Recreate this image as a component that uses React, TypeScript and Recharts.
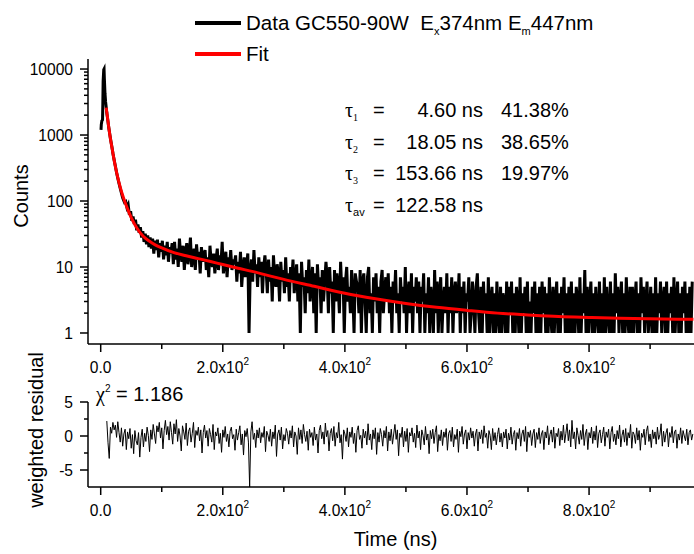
import React from 'react';
import { LineChart, Line, XAxis, YAxis, Legend } from 'recharts';

const FONT = '"Liberation Sans", Arial, sans-serif';
const SERIF = '"Liberation Serif", "Times New Roman", serif';

// decay curve, rising edge and fast part (ns, counts)
const peakTimes = [0.5, 1, 2, 3, 3.5, 4, 5, 5.5, 6, 7, 8, 9, 10, 11, 12, 13, 14, 15, 16, 17, 18, 19, 20, 22, 24, 26, 28, 30, 32, 34, 36, 38, 39];
const peakCounts = [1200, 1450, 1650, 1700, 3000, 6500, 9800, 10000, 7200, 4300, 3200, 2650, 2150, 1850, 1580, 1330, 1160, 1010, 880, 780, 690, 610, 530, 420, 340, 270, 222, 185, 155, 132, 112, 100, 95];

// 41 .. 119 ns, 2 ns channels
const midStart = 41;
const midStep = 2;
const midCounts = [98, 80, 88, 62, 70, 50, 58, 45, 52, 36, 44, 33, 40, 28, 35, 24, 32, 22, 30, 20, 28, 19, 27, 16, 25, 18, 26, 14, 23, 17, 25, 13, 21, 15, 24, 12, 20, 16, 23, 11];

// 121 .. 969 ns, 2 ns channels (one row = 50 ns)
const tailStart = 121;
const tailStep = 2;
const tailCounts = [
  24, 13, 19, 10, 27, 15, 12, 21, 9, 17, 23, 11, 16, 28, 10, 14, 19, 9, 22, 13, 17, 8, 20, 12, 15,
  18, 9, 14, 7, 21, 12, 10, 16, 8, 13, 19, 9, 15, 11, 24, 8, 12, 17, 7, 14, 10, 18, 9, 13, 11,
  15, 6, 12, 8, 17, 5, 10, 14, 7, 11, 16, 1, 9, 13, 6, 18, 8, 11, 5, 14, 7, 12, 4, 10, 15,
  9, 4, 13, 6, 10, 3, 15, 7, 5, 11, 8, 3, 12, 6, 9, 4, 14, 5, 8, 3, 10, 6, 13, 4, 7,
  11, 3, 8, 1, 12, 5, 7, 2, 9, 4, 13, 3, 6, 10, 2, 8, 1, 11, 5, 7, 2, 9, 3, 6, 12,
  7, 2, 10, 4, 6, 1, 9, 3, 8, 5, 2, 12, 4, 7, 1, 6, 10, 3, 5, 2, 9, 4, 1, 8, 6,
  5, 2, 9, 1, 6, 8, 3, 1, 7, 10, 2, 4, 1, 7, 3, 8, 2, 5, 1, 6, 9, 2, 4, 7, 3,
  8, 2, 5, 1, 6, 3, 9, 2, 4, 1, 7, 3, 5, 2, 10, 1, 4, 6, 2, 8, 1, 5, 3, 7, 2,
  6, 1, 5, 3, 8, 1, 4, 2, 7, 1, 5, 3, 1, 9, 2, 6, 1, 4, 7, 1, 3, 5, 2, 8, 1,
  5, 2, 7, 1, 4, 6, 2, 3, 8, 1, 5, 2, 6, 1, 4, 3, 7, 1, 2, 6, 3, 1, 5, 8, 2,
  1, 5, 1, 6, 2, 4, 1, 7, 1, 3, 5, 1, 4, 1, 6, 2, 1, 5, 1, 4, 3, 1, 6, 1, 5,
  2, 6, 1, 4, 1, 5, 3, 1, 7, 1, 4, 2, 5, 1, 6, 1, 3, 1, 5, 2, 6, 1, 4, 1, 5,
  1, 6, 2, 5, 1, 4, 1, 7, 2, 1, 5, 1, 3, 6, 1, 4, 1, 5, 2, 7, 1, 4, 1, 5, 1,
  6, 1, 4, 1, 5, 3, 1, 7, 1, 4, 2, 9, 1, 5, 1, 3, 6, 1, 4, 1, 5, 2, 1, 6, 1,
  4, 1, 7, 1, 5, 2, 1, 6, 1, 4, 1, 8, 2, 5, 1, 3, 6, 1, 4, 1, 7, 2, 1, 5, 1,
  5, 1, 3, 6, 1, 4, 1, 7, 2, 5, 1, 3, 6, 1, 2, 5, 1, 4, 1, 7, 1, 4, 2, 6, 1,
  3, 5, 1, 6, 1, 4, 2, 5, 1, 7, 1, 3, 6, 1, 4, 1, 5, 2, 6, 1, 4, 1, 5, 1, 6,
];

// fitted curve
const fitTimes = [9, 11, 13, 15, 18, 21, 25, 30, 35, 40, 45, 50, 60, 70, 80, 90, 100, 120, 140, 160, 180, 200, 225, 250, 275, 300, 350, 400, 450, 500, 550, 600, 650, 700, 750, 800, 850, 900, 971];
const fitCounts = [2600, 1900, 1350, 1000, 680, 470, 300, 190, 130, 95, 72, 56, 38, 29, 24.5, 21.5, 19.5, 16.5, 14.8, 13.4, 12.1, 10.9, 9.6, 8.5, 7.4, 6.5, 5.1, 4.0, 3.3, 2.8, 2.45, 2.2, 2.0, 1.88, 1.78, 1.72, 1.67, 1.64, 1.61];

// weighted residuals, 10 .. 970 ns, 2 ns channels (one row = 50 ns)
const resStart = 10;
const resStep = 2;
const residuals = [
  2.2, -1.0, -3.3, 1.3, 0.4, 2.0, 0.9, 1.6, -0.2, 2.1, 0.5, -0.9, 1.2, -1.5, 0.3, 1.0, -2.0, 0.6, -0.4, 1.1, -1.8, 0.2, -2.6, 0.8, -0.7,
  -1.3, 0.5, -3.1, -0.2, 1.0, -1.6, 0.4, -0.8, 1.3, 0.1, -2.3, 0.9, -0.5, 1.7, 0.3, -1.1, 1.5, 0.6, 2.0, -0.3, 1.2, -1.9, 0.8, 2.3, 0.2,
  1.4, -0.6, 2.1, 0.5, -1.2, 1.8, 0.3, 2.4, -0.8, 1.1, 0.0, -2.2, 1.5, 0.6, -0.5, 1.9, -1.4, 0.7, 1.2, -0.9, 0.4, 2.0, -1.7, 0.8, 0.1,
  1.3, -0.7, 0.9, -2.5, 0.5, 1.6, -0.3, 0.8, -1.5, 1.1, 0.2, -0.9, 1.7, -2.0, 0.6, 0.0, 1.2, -1.1, 0.4, -2.4, 0.9, -0.2, 1.4, -0.8, 0.3,
  -1.6, 0.7, 1.3, -0.4, 0.2, -2.1, 1.0, -0.6, 0.5, 1.5, -1.3, 0.3, -2.8, 0.8, -0.1, 1.1, -0.9, -7.5, 0.6, 2.1, -0.5, 0.4, -1.7, 0.9, -0.3,
  1.2, -1.0, 0.5, -0.2, 1.4, -2.3, 0.7, 0.1, -0.8, 1.0, -1.5, 0.6, -0.4, 1.6, -3.0, 0.3, 0.9, -0.6, 1.3, -1.9, 0.2, -0.7, 1.1, 0.4, -1.2,
  0.8, -0.3, 1.5, -1.6, 0.6, 0.0, -2.7, 1.2, -0.5, 0.9, -1.1, 1.7, 0.2, -0.8, 0.7, -2.1, 1.0, -0.2, 0.5, -1.4, 1.3, -0.6, 0.3, -2.5, 0.8,
  1.6, -0.4, 0.6, -1.2, 1.9, -0.1, 0.8, -2.2, 0.4, 1.1, -0.7, 1.4, -1.5, 0.5, -0.3, 2.0, -1.0, 0.2, -3.4, 0.9, 0.3, -0.8, 1.2, -1.6, 0.6,
  -0.2, 1.3, -1.1, 0.4, -2.4, 0.8, 1.5, -0.5, 0.1, -1.8, 1.0, -0.3, 0.7, -1.3, 1.8, -0.6, 0.3, -2.0, 0.9, -0.4, 1.2, -2.7, 0.5, -0.9, 1.1,
  0.2, -1.5, 0.8, -0.3, 1.4, -2.2, 0.6, -0.7, 1.0, -1.2, 0.3, 1.7, -0.5, 0.9, -2.9, 0.4, -0.2, 1.3, -1.6, 0.7, -0.8, 1.1, -2.4, 0.5, 0.0,
  1.2, -0.9, 0.4, -1.7, 1.6, -0.3, 0.7, -2.0, 0.9, 0.1, -1.3, 1.4, -0.6, 0.3, -2.6, 0.8, -0.4, 1.0, -1.1, 0.5, 1.5, -2.3, 0.2, -0.7, 0.9,
  -1.4, 0.6, -0.2, 1.1, -2.1, 0.4, 0.8, -0.8, 1.3, -1.6, 0.2, -0.5, 1.0, -2.4, 0.7, -0.1, 1.4, -1.2, 0.3, 0.9, -1.9, 0.5, -0.6, 1.2, -0.3,
  0.7, -1.5, 0.3, 1.0, -2.2, 0.6, -0.4, 0.9, -1.1, 1.5, -0.2, 0.4, -1.8, 0.8, 0.1, -2.0, 1.1, -0.7, 0.5, -1.3, 0.2, 1.2, -0.9, 0.4, -1.6,
  0.6, -0.3, 1.0, -1.9, 0.4, -0.6, 1.3, -1.2, 0.2, 0.8, -2.1, 0.5, -0.4, 1.1, -1.5, 0.3, 0.9, -0.8, 1.4, -2.3, 0.6, -0.2, 0.8, -1.4, 0.3,
  1.0, -1.7, 0.5, -0.5, 1.2, -1.1, 0.3, 0.8, -2.0, 0.6, -0.3, 1.5, -1.3, 0.2, 0.9, -0.9, 1.3, -1.8, 0.4, -0.1, 1.1, -1.4, 0.7, -0.6, 1.6,
  -1.0, 0.4, 1.8, -0.7, 0.9, -1.6, 2.3, -0.4, 0.6, -1.9, 1.2, 0.1, -1.2, 0.8, -0.5, 1.7, -1.4, 0.3, 1.0, -2.0, 0.5, -0.3, 1.3, -1.1, 0.7,
  -0.6, 1.5, -1.7, 0.4, 0.9, -1.0, 0.2, 1.3, -1.5, 0.6, -0.2, 1.0, -1.9, 0.5, 1.4, -0.8, 0.3, -1.3, 0.8, -0.4, 1.6, -1.6, 0.1, 0.9, -0.9,
  1.1, -1.4, 0.5, -0.3, 1.7, -1.8, 0.6, 0.2, -1.1, 1.2, -0.6, 0.8, -2.1, 0.4, -0.2, 1.0, -1.3, 0.7, 1.5, -0.8, 0.3, -1.7, 0.9, -0.4, 0.6,
  -1.2, 1.3, -0.5, 0.2, 1.8, -1.5, 0.7, -0.9, 0.4, 1.1, -1.6, 0.5, -0.2, 1.4, -1.0, 0.6, 0.9, -1.8, 0.3, -0.6, 1.2, -1.1, 0.8, 0.0, -0.7,
  1.0, -1.3, 0.5, 0.9, -0.6, 0.3,
];

const xTicks = [0, 100, 200, 300, 400, 500, 600, 700, 800, 900];
const logMajor = [1, 10, 100, 1000, 10000];
const logTicks = [1, 2, 3, 4, 5, 6, 7, 8, 9, 10, 20, 30, 40, 50, 60, 70, 80, 90, 100, 200, 300, 400, 500, 600, 700, 800, 900, 1000, 2000, 3000, 4000, 5000, 6000, 7000, 8000, 9000, 10000];
const resTicks = [5, 2.5, 0, -2.5, -5];
const resMajor = [5, 0, -5];

const lifetimes = [
  { sub: '1', value: '4.60 ns', pct: '41.38%' },
  { sub: '2', value: '18.05 ns', pct: '38.65%' },
  { sub: '3', value: '153.66 ns', pct: '19.97%' },
];
const tauAverage = '122.58 ns';
const chiSquare = '1.186';

const decayData = [
  ...peakTimes.map((t, i) => ({ t, counts: peakCounts[i] })),
  ...midCounts.map((c, i) => ({ t: midStart + i * midStep, counts: c })),
  ...tailCounts.map((c, i) => ({ t: tailStart + i * tailStep, counts: c })),
];
const fitData = fitTimes.map((t, i) => ({ t, fit: fitCounts[i] }));
const resData = residuals.map((r, i) => ({ t: resStart + i * resStep, r }));

const XTick = ({ x, y, payload }: any) => {
  const v = payload.value;
  const major = v % 200 === 0;
  return (
    <g>
      <line x1={x} x2={x} y1={y} y2={y + (major ? 8 : 5)} stroke="#000" strokeWidth={1.5} />
      {major && (
        <text x={x} y={y + 29} textAnchor="middle" fontSize={15.6} fontFamily={FONT} fill="#000">
          {v === 0 ? '0.0' : `${(v / 100).toFixed(1)}x10`}
          {v !== 0 && <tspan fontSize={10} dy={-8}>2</tspan>}
        </text>
      )}
    </g>
  );
};

const makeYTick = (majors: number[]) => ({ x, y, payload }: any) => {
  const v = payload.value;
  const major = majors.includes(v);
  return (
    <g>
      <line x1={x} x2={x - (major ? 8 : 4)} y1={y} y2={y} stroke="#000" strokeWidth={1.5} />
      {major && (
        <text x={x - 15} y={y + 6} textAnchor="end" fontSize={15.6} fontFamily={FONT} fill="#000">
          {v}
        </text>
      )}
    </g>
  );
};
const LogTick = makeYTick(logMajor);
const ResTick = makeYTick(resMajor);

const renderLegend = ({ payload }: any) => (
  <svg width={440} height={70} style={{ display: 'block', overflow: 'visible' }}>
    {(payload || []).map((entry: any, i: number) => {
      const y = 19 + i * 31;
      return (
        <g key={i}>
          <line x1={5} x2={51} y1={y} y2={y} stroke={entry.color} strokeWidth={4} />
          <text x={56} y={y + 7} fontSize={20.5} fontFamily={FONT} fill="#000" style={{ whiteSpace: 'pre' }}>
            {entry.dataKey === 'counts' ? (
              <>
                {'Data GC550-90W  E'}
                <tspan fontSize={11} dy={5}>x</tspan>
                <tspan dy={-5}>{'374nm E'}</tspan>
                <tspan fontSize={11} dy={5}>m</tspan>
                <tspan dy={-5}>447nm</tspan>
              </>
            ) : (
              entry.value
            )}
          </text>
        </g>
      );
    })}
  </svg>
);

const axisLine = { stroke: '#000', strokeWidth: 1.5 };

export default function App() {
  return (
    <div style={{ position: 'absolute', left: 0, top: 0, width: 694, height: 554, background: '#fff' }}>
      <div style={{ position: 'absolute', left: 0, top: 0 }}>
        <LineChart width={694} height={390} margin={{ top: 59, right: 0, bottom: 0, left: 0 }}>
          <XAxis
            type="number"
            dataKey="t"
            domain={[-20.8, 971.9]}
            allowDataOverflow
            ticks={xTicks}
            interval={0}
            tick={<XTick />}
            tickLine={false}
            tickSize={0}
            tickMargin={0}
            height={46}
            axisLine={axisLine}
          />
          <YAxis
            type="number"
            scale="log"
            domain={[0.681, 14190]}
            allowDataOverflow
            ticks={logTicks}
            interval={0}
            tick={<LogTick />}
            tickLine={false}
            tickSize={0}
            tickMargin={0}
            width={88}
            axisLine={axisLine}
          />
          <Line
            data={decayData}
            dataKey="counts"
            name="Data"
            type="linear"
            stroke="#000000"
            strokeWidth={3}
            dot={false}
            isAnimationActive={false}
          />
          <Line
            data={fitData}
            dataKey="fit"
            name="Fit"
            type="monotone"
            stroke="#ff0000"
            strokeWidth={3}
            dot={false}
            isAnimationActive={false}
          />
          <Legend
            layout="vertical"
            align="center"
            verticalAlign="middle"
            content={renderLegend}
            wrapperStyle={{ position: 'absolute', left: 190, top: 4, width: 440, height: 70 }}
          />
        </LineChart>
      </div>
      <div style={{ position: 'absolute', left: 0, top: 380 }}>
        <LineChart width={694} height={174} data={resData} margin={{ top: 22, right: 0, bottom: 0, left: 0 }}>
          <XAxis
            type="number"
            dataKey="t"
            domain={[-20.8, 971.9]}
            allowDataOverflow
            ticks={xTicks}
            interval={0}
            tick={<XTick />}
            tickLine={false}
            tickSize={0}
            tickMargin={0}
            height={67}
            axisLine={axisLine}
          />
          <YAxis
            type="number"
            domain={[-7.5, 5]}
            allowDataOverflow
            ticks={resTicks}
            interval={0}
            tick={<ResTick />}
            tickLine={false}
            tickSize={0}
            tickMargin={0}
            width={88}
            axisLine={axisLine}
          />
          <Line
            dataKey="r"
            type="linear"
            stroke="#000000"
            strokeWidth={1}
            dot={false}
            isAnimationActive={false}
          />
        </LineChart>
      </div>
      <svg width={694} height={554} style={{ position: 'absolute', left: 0, top: 0, pointerEvents: 'none' }}>
        <text x={28} y={196} transform="rotate(-90 28 196)" textAnchor="middle" fontSize={20} fontFamily={FONT}>
          Counts
        </text>
        <text x={43} y={430} transform="rotate(-90 43 430)" textAnchor="middle" fontSize={20} fontFamily={FONT}>
          weighted residual
        </text>
        <text x={395.5} y={546} textAnchor="middle" fontSize={20} fontFamily={FONT}>
          Time (ns)
        </text>
        {lifetimes.map((l, i) => {
          const y = 117 + i * 31.5;
          return (
            <g key={l.sub}>
              <text x={345} y={y} fontSize={20} fontFamily={SERIF}>
                τ<tspan fontSize={10} dy={4}>{l.sub}</tspan>
              </text>
              <text x={373} y={y} fontSize={20} fontFamily={FONT}>=</text>
              <text x={483} y={y} textAnchor="end" fontSize={20} fontFamily={FONT}>{l.value}</text>
              <text x={501} y={y} fontSize={20} fontFamily={FONT}>{l.pct}</text>
            </g>
          );
        })}
        <text x={345} y={211.5} fontSize={20} fontFamily={SERIF}>
          τ<tspan fontSize={11} dy={4} fontFamily={FONT}>av</tspan>
        </text>
        <text x={373} y={211.5} fontSize={20} fontFamily={FONT}>=</text>
        <text x={483} y={211.5} textAnchor="end" fontSize={20} fontFamily={FONT}>{tauAverage}</text>
        <text x={96} y={401} fontSize={20} fontFamily={FONT}>
          <tspan fontFamily={SERIF}>χ</tspan>
          <tspan fontSize={10} dy={-9}>2</tspan>
          <tspan dy={9}>{` = ${chiSquare}`}</tspan>
        </text>
      </svg>
    </div>
  );
}
